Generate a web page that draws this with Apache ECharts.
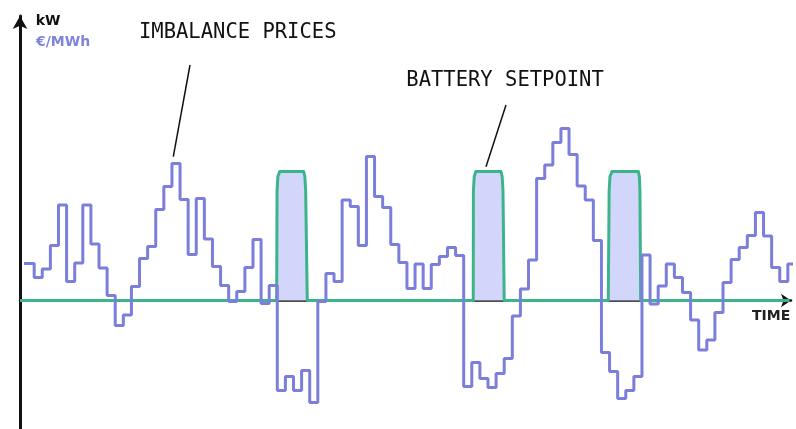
<!DOCTYPE html>
<html>
<head>
<meta charset="utf-8">
<script src="https://cdn.jsdelivr.net/npm/echarts@6/dist/echarts.min.js"></script>
<style>
html,body{margin:0;padding:0;background:#fff;}
#chart{width:796px;height:429px;}
</style>
</head>
<body>
<div id="chart"></div>
<script>
// Imbalance price per quarter-hour period (€/MWh)
const prices = [37,23,31.5,55,95.5,19,37.5,95.5,56.5,32.5,5,-25,-14.5,14,42,54,91,114,137,101,
  46,102,61.5,34,15,-1,9,33,61,-3,15,-90,-76,-90,-70,-102,-1,27,19,100.5,
  94,55,144,104,93,56,38,12,36.5,12,36,44,53,45,-86,-62,-78,-87,-73,-58,
  -15.5,11.5,40.5,122,135.5,158,172,146,114.5,100.5,60,-52,-71,-98,-90,-76,45.5,-3.5,14.5,36.5,
  23,8,-19.5,-49.5,-39.5,-12,18,41,53,65,88,64.5,33,19,36.5,5];
const priceStart = -0.25;   // first visible period starts just right of the axis

// Battery setpoint (kW) – three charging pulses with rounded shoulders
const setpointTime = [-0.75,
  30.92,30.97,31.07,31.3, 34.25,34.4,34.5,34.7,
  55.18,55.2,55.3,55.5, 58.6,58.75,58.85,59.0,
  71.84,71.95,72.05,72.3, 75.55,75.68,75.75,75.84,
  94.2];
const setpointKW = [0,
  0,110,124,129, 129,124,110,0,
  0,110,124,129, 129,124,110,0,
  0,110,124,129, 129,124,110,0,
  0];

const labels = {
  unitKW: 'kW', unitPrice: '€/MWh', time: 'TIME',
  prices: 'IMBALANCE PRICES', setpoint: 'BATTERY SETPOINT'
};

const priceData = prices.map((v, i) => [i === 0 ? priceStart : i, v]);
priceData.push([prices.length + 1, prices[prices.length - 1]]);
const setpointData = setpointTime.map((t, i) => [t, setpointKW[i]]);

const purple = '#7b7fdb';
const green = '#3cb48a';
const mono = '"DejaVu Sans Mono", monospace';

const chart = echarts.init(document.getElementById('chart'));
chart.setOption({
  animation: false,
  backgroundColor: '#ffffff',
  grid: { left: 20, right: 5, top: 16, bottom: 0 },
  xAxis: {
    type: 'value', min: -0.75, max: 94.39,
    axisLine: { show: true, onZero: true, symbol: ['none', 'arrow'], symbolSize: [10, 10],
      lineStyle: { color: '#111', width: 2.5 } },
    axisTick: { show: false }, axisLabel: { show: false }, splitLine: { show: false }
  },
  yAxis: {
    type: 'value', min: -128.5, max: 284.5,
    axisLine: { show: true, onZero: false, symbol: ['none', 'arrow'], symbolSize: [11, 13],
      lineStyle: { color: '#111', width: 3 } },
    axisTick: { show: false }, axisLabel: { show: false }, splitLine: { show: false }
  },
  series: [
    {
      name: 'setpoint', type: 'line', data: setpointData, showSymbol: false, symbol: 'none',
      lineStyle: { color: green, width: 3, join: 'round' },
      areaStyle: { color: '#d3d6fb', opacity: 1, origin: 0 },
      z: 2
    },
    {
      name: 'prices', type: 'line', step: 'end', data: priceData, showSymbol: false, symbol: 'none',
      clip: false,
      lineStyle: { color: purple, width: 3 },
      z: 3
    }
  ],
  graphic: [
    { type: 'text', x: 35.7, y: 21, style: { text: labels.unitKW, fill: '#111', font: 'bold 14px "DejaVu Sans"', verticalAlign: 'middle' } },
    { type: 'text', x: 36, y: 42.2, style: { text: labels.unitPrice, fill: '#8083dc', font: 'bold 14px "DejaVu Sans"', verticalAlign: 'middle' } },
    { type: 'text', x: 752, y: 316, style: { text: labels.time, fill: '#222', font: 'bold 14px "DejaVu Sans"', verticalAlign: 'middle' } },
    { type: 'text', x: 139, y: 32.7, style: { text: labels.prices, fill: '#111', font: '20.5px ' + mono, verticalAlign: 'middle' } },
    { type: 'text', x: 406.3, y: 80.6, style: { text: labels.setpoint, fill: '#111', font: '20.5px ' + mono, verticalAlign: 'middle' } },
    { type: 'line', shape: { x1: 190, y1: 65, x2: 173.3, y2: 156.7 }, style: { stroke: '#111', lineWidth: 1.5 } },
    { type: 'line', shape: { x1: 506, y1: 105, x2: 486, y2: 166.7 }, style: { stroke: '#111', lineWidth: 1.5 } }
  ]
});
</script>
</body>
</html>
